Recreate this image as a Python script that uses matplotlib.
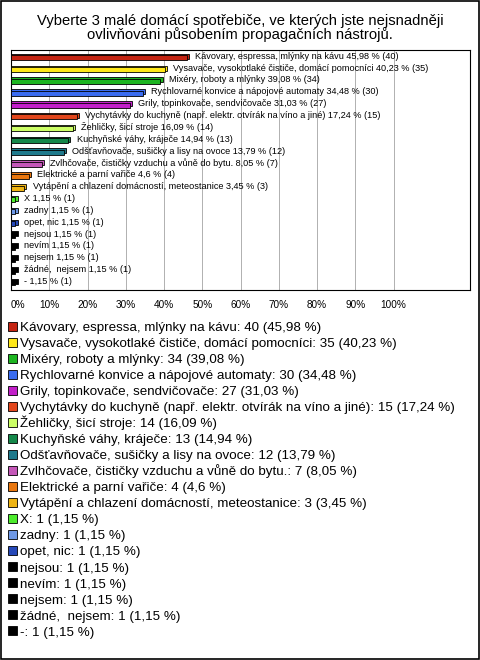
import matplotlib
matplotlib.use('Agg')
import matplotlib.pyplot as plt
from matplotlib.patches import Rectangle

plt.rcParams['font.family'] = ['Liberation Sans', 'DejaVu Sans']

# data
categories = [
    'Kávovary, espressa, mlýnky na kávu',
    'Vysavače, vysokotlaké čističe, domácí pomocníci',
    'Mixéry, roboty a mlýnky',
    'Rychlovarné konvice a nápojové automaty',
    'Grily, topinkovače, sendvičovače',
    'Vychytávky do kuchyně (např. elektr. otvírák na víno a jiné)',
    'Žehličky, šicí stroje',
    'Kuchyňské váhy, kráječe',
    'Odšťavňovače, sušičky a lisy na ovoce',
    'Zvlhčovače, čističky vzduchu a vůně do bytu.',
    'Elektrické a parní vařiče',
    'Vytápění a chlazení domácností, meteostanice',
    'X',
    'zadny',
    'opet, nic',
    'nejsou',
    'nevím',
    'nejsem',
    'žádné,  nejsem',
    '-',
]
counts = [40, 35, 34, 30, 27, 15, 14, 13, 12, 7, 4, 3, 1, 1, 1, 1, 1, 1, 1, 1]
percents = ['45,98', '40,23', '39,08', '34,48', '31,03', '17,24', '16,09', '14,94',
            '13,79', '8,05', '4,6', '3,45', '1,15', '1,15', '1,15', '1,15', '1,15',
            '1,15', '1,15', '1,15']
colors = ['#C42412', '#FFE81A', '#1DB521', '#3A6CF0', '#C21FC9', '#E2461C',
          '#CCFF66', '#14884A', '#1F7A8C', '#C457B8', '#E8760E', '#EEB414',
          '#4CEB2C', '#6E98E6', '#2548B8', '#000000', '#000000', '#000000',
          '#000000', '#000000']
total = 87

values = [c / total * 100 for c in counts]
n = len(categories)
ypos = list(range(n))

W, H = 480, 660
fig = plt.figure(figsize=(W / 100, H / 100), dpi=100)
fig.patch.set_facecolor('white')
fig.add_artist(Rectangle((0.002, 0.002), 0.996, 0.996, transform=fig.transFigure,
                         fill=False, edgecolor='black', linewidth=1.2))

fig.text(0.5, 1 - 28 / H, 'Vyberte 3 malé domácí spotřebiče, ve kterých jste nejsnadněji\n'
         'ovlivňováni působením propagačních nástrojů.',
         ha='center', va='center', fontsize=10.6, linespacing=1.0)

ax = fig.add_axes([11 / W, 1 - 290 / H, 459 / W, 240 / H])
ax.set_xlim(0, 120)
ax.set_ylim(n - 0.4, -0.65)

# fake 3D depth: offset back face then front face
ax.barh([y - 0.13 for y in ypos], [v + 0.6 for v in values], height=0.42,
        color=colors, edgecolor='black', linewidth=0.6, zorder=2)
ax.barh(ypos, values, height=0.42, color=colors, edgecolor='black',
        linewidth=0.6, zorder=3)

for y, v, cat, p, c in zip(ypos, values, categories, percents, counts):
    ax.text(v + 2.2, y - 0.12, f'{cat} {p} % ({c})', va='center', ha='left',
            fontsize=6.6, zorder=4)

ax.set_xticks(range(0, 101, 10))
ax.set_xticklabels([f'{t}%' for t in range(0, 101, 10)], fontsize=7.2)
ax.get_xticklabels()[0].set_horizontalalignment('left')
ax.set_yticks([])
ax.xaxis.grid(True, color='#b0b0b0', linewidth=0.7)
ax.set_axisbelow(True)
ax.tick_params(axis='x', length=0, pad=7)
for s in ax.spines.values():
    s.set_linewidth(0.8)

# legend drawn row by row with fixed spacing
labels = [f'{cat}: {c} ({p} %)' for cat, c, p in zip(categories, counts, percents)]
row0, step = 326, 16.05
for i, (lab, col) in enumerate(zip(labels, colors)):
    yc = row0 + i * step
    fig.add_artist(Rectangle((8 / W, 1 - (yc + 4.5) / H), 9 / W, 9 / H,
                             transform=fig.transFigure, facecolor=col,
                             edgecolor='black', linewidth=0.6))
    fig.text(20 / W, 1 - (yc + 4.8) / H, lab, ha='left', va='baseline',
             fontsize=9.6)

fig.savefig('out.png', dpi=100)
